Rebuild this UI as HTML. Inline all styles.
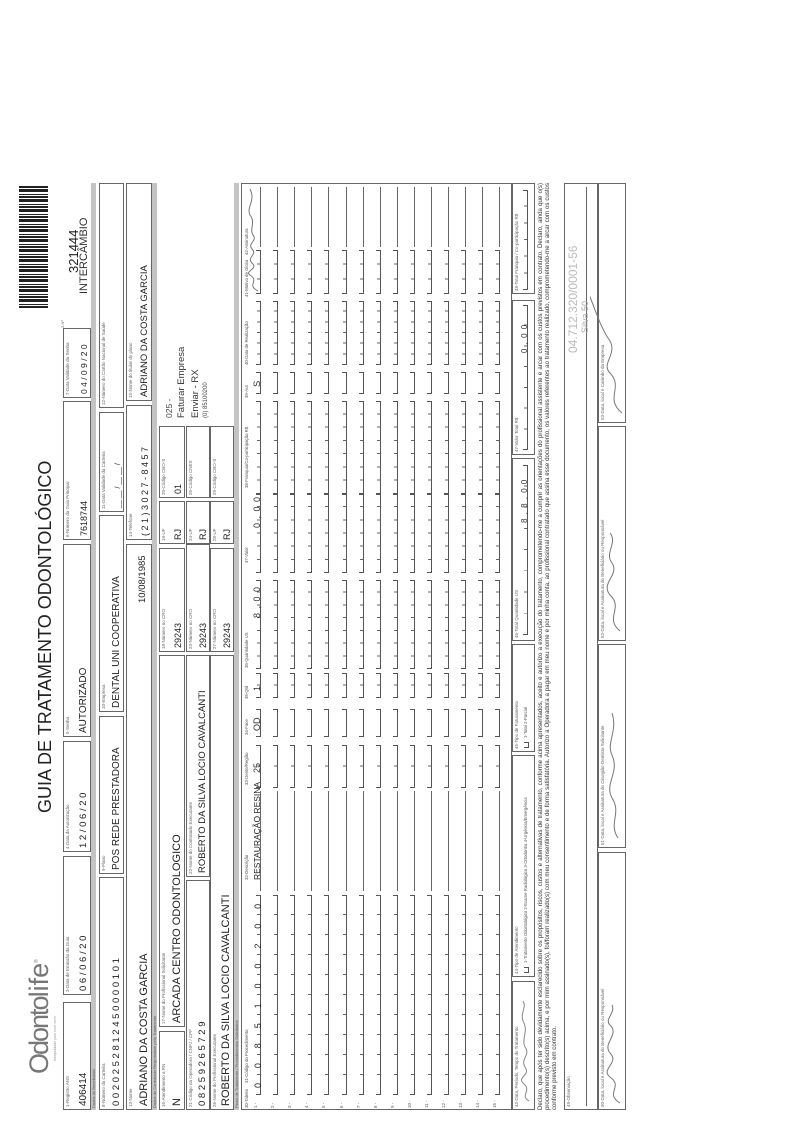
<!DOCTYPE html>
<html><head><meta charset="utf-8">
<style>
html,body{margin:0;padding:0;background:#fff;width:793px;height:1123px;overflow:hidden;}
#L{position:absolute;left:0;top:0;width:1123px;height:793px;transform-origin:0 0;transform:translateY(1123px) rotate(-90deg);font-family:"Liberation Sans",sans-serif;color:#333;}
.b{position:absolute;border:1px solid #666;box-sizing:border-box;}
.l{position:absolute;left:2px;top:1px;font-size:4.5px;color:#666;white-space:nowrap;}
.v{position:absolute;left:3px;bottom:1px;font-size:10px;color:#222;white-space:nowrap;}
.band{position:absolute;height:5px;background:#c4c4c4;font-size:4px;color:#555;line-height:5px;padding-left:2px;box-sizing:border-box;}
.t{position:absolute;white-space:nowrap;}
.c{position:absolute;height:5px;border:1px solid #555;border-top:none;box-sizing:border-box;}
.ln{position:absolute;height:0;border-bottom:1px solid #666;}
</style></head><body>
<div id="L"></div>
<script>
var L=document.getElementById('L');
function el(h){L.insertAdjacentHTML('beforeend',h);}
function box(u,v,w,h,lab,val,fs){el('<div class="b" style="left:'+u+'px;top:'+v+'px;width:'+w+'px;height:'+h+'px"><span class="l">'+lab+'</span>'+(val?'<span class="v" style="font-size:'+(fs||10)+'px">'+val+'</span>':'')+'</div>');}
function comb(u,v,w,n){var cw=w/n;el('<div class="c" style="left:'+u+'px;top:'+v+'px;width:'+w+'px;background:repeating-linear-gradient(90deg,transparent 0,transparent '+(cw-1)+'px,#666 '+(cw-1)+'px,#666 '+cw+'px) bottom/100% 3px no-repeat"></div>');}
function t(u,v,s,fs,extra){el('<span class="t" style="left:'+u+'px;top:'+v+'px;font-size:'+fs+'px;'+(extra||'')+'">'+s+'</span>');}
function band(u,v,w,s){el('<div class="band" style="left:'+u+'px;top:'+v+'px;width:'+w+'px">'+s+'</div>');}
// header
t(49,24,'<span style="letter-spacing:-2px">Odonto</span>life<sup style="font-size:5px">®</sup>',27,'color:#777;font-weight:normal;');
t(62,53,'tranquilidade para você sorrir',3.5,'color:#999');
t(310,35,'GUIA DE TRATAMENTO ODONTOLÓGICO',18,'color:#222');
t(795,60,'2-Nº',4,'color:#666');
el('<div style="position:absolute;left:815px;top:19px;width:122px;height:29px;background:repeating-linear-gradient(90deg,#222 0 2px,#fff 2px 3px,#222 3px 4px,#fff 4px 6px,#222 6px 9px,#fff 9px 10px)"></div>');
t(850,66,'321444',13,'color:#222');
t(829,78,'INTERCÂMBIO',11,'color:#333');
// row1
box(13,63,108,28,'1-Registro ANS','406414');
box(128,63,139,28,'3-Data de Emissão da Guia','0 6 / 0 6 / 2 0',9.5);
box(271,63,111,28,'4-Data da Autorização','1 2 / 0 6 / 2 0',9.5);
box(386,63,193,28,'5-Senha','AUTORIZADO');
box(583,63,139,28,'6-Número da Guia Principal','7618744',9);
box(725,63,70,28,'7-Data Validade da Senha','0 4 / 0 9 / 2 0',8.5);
band(13,91,927,'Dados do Beneficiário');
box(13,99,233,25,'8-Número da Carteira','0 0 2 0 2 5 2 8 1 2 4 5 0 0 0 0 1 0 1',9.5);
box(249,99,158,25,'9-Plano','POS REDE PRESTADORA');
box(411,99,197,25,'10-Empresa','DENTAL UNI COOPERATIVA');
box(611,99,100,25,'11-Data Validade da Carteira','__ __ / __ __ /',7);
box(715,99,225,25,'12-Número do Cartão Nacional de Saúde','');
box(13,126,566,26,'13-Nome','ADRIANO DA COSTA GARCIA',11);
t(520,137,'10/08/1985',9.5,'color:#222');
box(583,126,135,26,'14-Telefone','( 2 1 ) 3 0 2 7 - 8 4 5 7',9);
box(722,126,218,26,'15-Nome do titular do plano','ADRIANO DA COSTA GARCIA',9.5);
band(13,152,927,'Dados do Contratado Responsável pelo Tratamento');
box(13,159,79,26,'16-Atendimento a RN','N',11);
box(96,159,372,26,'17-Nome do Profissional Solicitante','ARCADA CENTRO ODONTOLOGICO',11);
box(471,159,104,26,'18-Número no CRO','29243',9);
box(579,159,43,26,'19-UF','RJ',9);
box(625,159,72,26,'20-Código CBO-S','01',9);
t(705,164,'025 -',8.5,'color:#444');
t(705,176,'Faturar Empresa',9.5,'color:#333');
t(705,190,'Enviar - RX',9.5,'color:#333');
t(705,203,'(0) 85100200',6,'color:#444');
box(13,186,230,24,'21-Código na Operadora / CNPJ / CPF','0 8 2 5 9 2 6 5 7 2 9',9.5);
box(246,186,222,24,'22-Nome do Contratado Executante','ROBERTO DA SILVA LOCIO CAVALCANTI',9.5);
box(471,186,108,24,'23-Número no CRO','29243',9);
box(579,186,43,24,'24-UF','RJ',9);
box(625,186,72,24,'25-Código CNES','',9);
box(13,210,455,24,'26-Nome do Profissional Executante','ROBERTO DA SILVA LOCIO CAVALCANTI',11);
box(471,210,104,24,'27-Número no CRO','29243',9);
box(579,210,43,24,'28-UF','RJ',9);
box(625,210,72,24,'29-Código CBO-S','',9);
band(13,234,927,'Plano de Tratamento / Procedimentos Solicitados');
// table
el('<div class="b" style="left:13px;top:241px;width:927px;height:271px"></div>');
var hd=[[15,'30-Tabela'],[40,'31-Código do Procedimento'],[243,'32-Descrição'],[338,'33-Dente/Região'],[388,'34-Face'],[424,'35-Qtd'],[455,'36-Quantidade US'],[560,'37-Valor'],[635,'38-Franquia/Co-participação R$'],[725,'39-Aut'],[758,'40-Data de Realização'],[826,'41-Motivo de Glosa'],[868,'42-Assinatura']];
hd.forEach(function(h){t(h[0],244,h[1],4.3,'color:#555');});
for(var i=0;i<15;i++){
 var v=Math.round(252+i*17.1);
 t(15,v+1,(i+1)+' -',4.5,'color:#555');
 comb(28,v+4,200,10);
 el('<div class="ln" style="left:232px;top:'+(v+8)+'px;width:100px"></div>');
 comb(335,v+4,43,2);comb(386,v+4,28,1);comb(425,v+4,25,2);
 comb(454,v+4,89,7);comb(550,v+4,79,6);comb(629,v+4,93,7);
 comb(729,v+4,22,1);comb(758,v+4,64,6);comb(829,v+4,44,3);
 el('<div class="ln" style="left:876px;top:'+(v+8)+'px;width:60px"></div>');
}
t(35,253,'0085100200',9,'letter-spacing:14.9px;color:#222');
t(243,252,'RESTAURAÇÃO RESINA',8.5,'color:#222');
t(350,252,'25',9);t(392,252,'OD',9);t(432,252,'1',9);
t(505,252,'8 , 0 0',9,'letter-spacing:1px');t(595,252,'0 , 0 0',9,'letter-spacing:1px');
t(736,252,'S',9.5);
el('<svg style="position:absolute;left:830px;top:244px" width="110" height="18"><path d="M2,14 C8,2 12,16 18,6 C22,0 24,15 30,8 C36,2 38,14 44,8 C50,3 52,14 58,9 C64,5 70,12 78,6 C86,2 92,12 104,6" fill="none" stroke="#777" stroke-width="1"/></svg>');
// bottom row
box(13,512,129,23,'43-Data, Período, Tempo do Tratamento','',9);
el('<svg style="position:absolute;left:18px;top:517px" width="110" height="17"><path d="M4,12 C10,2 14,16 22,6 C28,0 30,14 38,8 C46,3 50,14 58,8 C66,4 74,12 84,6 C92,3 98,10 104,6" fill="none" stroke="#888" stroke-width="1"/></svg>');
box(146,512,222,23,'44-Tipo de Atendimento','',9);
comb(150,524,6,1);t(160,523,'1-Tratamento Odontológico 2-Exame Radiológico 3-Ortodontia 4-Urgência/Emergência',4.3,'color:#555');
box(371,512,108,23,'45-Tipo de Faturamento','',9);
comb(375,524,6,1);t(385,523,'1-Total 2-Parcial',4.3,'color:#555');
box(482,512,183,23,'46-Total Quantidade US','',9);comb(488,523,170,8);t(600,520,'8 , 8 , 0 0',8,'letter-spacing:1px');
box(668,512,155,23,'47-Valor Total R$','',9);comb(673,523,145,7);t(770,520,'0 , 0 0',8,'letter-spacing:1px');
box(829,512,111,23,'48-Total Franquia / Co-participação R$','',9);comb(833,523,100,6);
el('<div class="t" style="left:13px;top:537px;width:927px;font-size:6.1px;line-height:7px;white-space:normal;text-align:justify;color:#333">Declaro, que após ter sido devidamente esclarecido sobre os propósitos, riscos, custos e alternativas de tratamento, conforme acima apresentados, aceito e autorizo a execução do tratamento, comprometendo-me a cumprir as orientações do profissional assistente e arcar com os custos previstos em contrato. Declaro, ainda que o(s) procedimento(s) descrito(s) acima, e por mim assinado(s), foi/foram realizado(s) com meu consentimento e de forma satisfatória. Autorizo a Operadora a pagar em meu nome e por minha conta, ao profissional contratado que assina esse documento, os valores referentes ao tratamento realizado, comprometendo-me a arcar com os custos conforme previsto em contrato.</div>');
box(13,564,927,34,'49-Observação','',9);
el('<div class="ln" style="left:17px;top:586px;width:919px"></div>');
box(13,598,258,28,'50-Data, local e Assinatura do Beneficiário ou Responsável','',9);
box(275,598,204,28,'51-Data, local e Assinatura do Cirurgião-Dentista Solicitante','',9);
box(482,598,215,28,'52-Data, local e Assinatura do Beneficiário ou Responsável','',9);
box(700,598,240,28,'53-Data, local e Carimbo da Empresa','',9);
el('<svg style="position:absolute;left:0;top:590px" width="1123" height="40"><g fill="none" stroke="#777" stroke-width="1"><path d="M20,30 C30,14 36,34 46,20 C54,10 60,30 70,20 C80,12 88,30 98,20 C104,14 110,26 118,22"/><path d="M285,28 C300,18 310,32 325,22 C340,14 350,30 368,22 C380,16 392,28 410,22"/><path d="M492,30 C505,14 515,34 528,20 C540,10 548,30 560,22 C570,14 580,28 590,20"/><path d="M710,32 C725,14 735,34 750,20 C760,10 770,30 785,18 C800,8 830,0 850,-10"/></g></svg>');
t(770,566,'04.712.320/0001-56',12,'color:#bbb');
t(790,580,'Silva 50',9,'color:#aaa');
</script>
</body></html>
